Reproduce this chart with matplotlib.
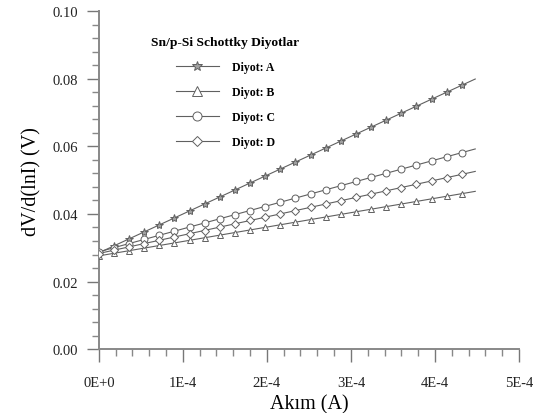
import matplotlib
matplotlib.use("Agg")
from matplotlib import pyplot as plt
from matplotlib.ticker import MultipleLocator, FuncFormatter
import numpy as np

plt.rcParams['font.family'] = ['Liberation Serif', 'DejaVu Serif']

# akim (A), olcum noktalari
akim = [0.0, 1.8e-5, 3.6e-5, 5.4e-5, 7.2e-5, 9.0e-5, 1.08e-4, 1.26e-4, 1.44e-4,
        1.62e-4, 1.80e-4, 1.98e-4, 2.16e-4, 2.34e-4, 2.52e-4, 2.70e-4, 2.88e-4,
        3.06e-4, 3.24e-4, 3.42e-4, 3.60e-4, 3.78e-4, 3.96e-4, 4.14e-4, 4.32e-4]

# dV/d(lnI) (V)
diyot_a = [0.0285, 0.0306, 0.0326, 0.0347, 0.0368, 0.0388, 0.0409, 0.0430, 0.0450,
           0.0471, 0.0491, 0.0512, 0.0533, 0.0553, 0.0574, 0.0595, 0.0615, 0.0636,
           0.0657, 0.0677, 0.0698, 0.0719, 0.0739, 0.0760, 0.0781]
diyot_b = [0.0276, 0.0284, 0.0291, 0.0299, 0.0307, 0.0314, 0.0322, 0.0330, 0.0337,
           0.0345, 0.0353, 0.0360, 0.0368, 0.0376, 0.0383, 0.0391, 0.0399, 0.0406,
           0.0414, 0.0422, 0.0429, 0.0437, 0.0445, 0.0452, 0.0460]
diyot_c = [0.0288, 0.0300, 0.0312, 0.0325, 0.0337, 0.0349, 0.0361, 0.0374, 0.0386,
           0.0398, 0.0410, 0.0422, 0.0435, 0.0447, 0.0459, 0.0471, 0.0484, 0.0496,
           0.0508, 0.0520, 0.0532, 0.0545, 0.0557, 0.0569, 0.0581]
diyot_d = [0.0283, 0.0293, 0.0303, 0.0312, 0.0322, 0.0332, 0.0342, 0.0351, 0.0361,
           0.0371, 0.0381, 0.0390, 0.0400, 0.0410, 0.0420, 0.0429, 0.0439, 0.0449,
           0.0459, 0.0468, 0.0478, 0.0488, 0.0498, 0.0507, 0.0517]

etiketler = ["Diyot: A", "Diyot: B", "Diyot: C", "Diyot: D"]
isaretler = ["*", "^", "o", "D"]
fit_aralik = (0.0, 4.48e-4)

fig = plt.figure(figsize=(5.4, 4.14), dpi=100)
ax = fig.add_axes([0.183, 0.154, 0.778, 0.817])

x = np.array(akim)
xfit = np.linspace(fit_aralik[0], fit_aralik[1], 2)
for y, lab, m in zip([diyot_a, diyot_b, diyot_c, diyot_d], etiketler, isaretler):
    k = np.polyfit(x, y, 1)
    ax.plot(xfit, np.polyval(k, xfit), color="#606060", lw=0.8, zorder=2)
    fc = "#a0a0a0" if m == "*" else "white"
    ms = 6.0 if m == "*" else (4.0 if m == "D" else 5.0)
    ax.plot(x, y, ls="none", marker=m, ms=ms, mfc=fc, mec="#606060", mew=0.7, zorder=3)
    # legend entry
    ax.plot([], [], color="#606060", lw=0.8, marker=m, ms=ms + 1.5, mfc=fc,
            mec="#606060", mew=0.7, label=lab)

ax.set_xlim(0, 5e-4)
ax.set_ylim(0, 0.10)
ax.spines['top'].set_visible(False)
ax.spines['right'].set_visible(False)
for s in ['left', 'bottom']:
    ax.spines[s].set_color("#888888")
    ax.spines[s].set_linewidth(1.4)

ax.xaxis.set_major_locator(MultipleLocator(1e-4))
ax.xaxis.set_minor_locator(MultipleLocator(2e-5))
ax.yaxis.set_major_locator(MultipleLocator(0.02))
ax.yaxis.set_minor_locator(MultipleLocator(0.004))
ax.xaxis.set_major_formatter(FuncFormatter(lambda v, p: "0E+0" if abs(v) < 1e-9 else "%dE-4" % round(v * 1e4)))
ax.yaxis.set_major_formatter(FuncFormatter(lambda v, p: "%.2f" % v))
ax.tick_params(which='major', length=9, width=1.0, color="#777777", labelsize=10.5,
               labelcolor="#222222", pad=6)
ax.tick_params(which='minor', length=5, width=1.0, color="#888888")
ax.tick_params(axis='x', which='major', pad=10)

ax.set_xlabel("Akım (A)", fontsize=14.5, labelpad=4)
ax.set_ylabel("dV/d(lnI) (V)", fontsize=14.5, labelpad=8)

leg = ax.legend(loc='upper left', bbox_to_anchor=(0.1, 0.958), frameon=False,
                prop={'weight': 'bold', 'size': 8.5}, title="Sn/p-Si Schottky Diyotlar",
                title_fontproperties={'weight': 'bold', 'size': 9.7},
                handlelength=3.6, handletextpad=1.1, labelspacing=1.1)

fig.savefig("out.png", dpi=100)
